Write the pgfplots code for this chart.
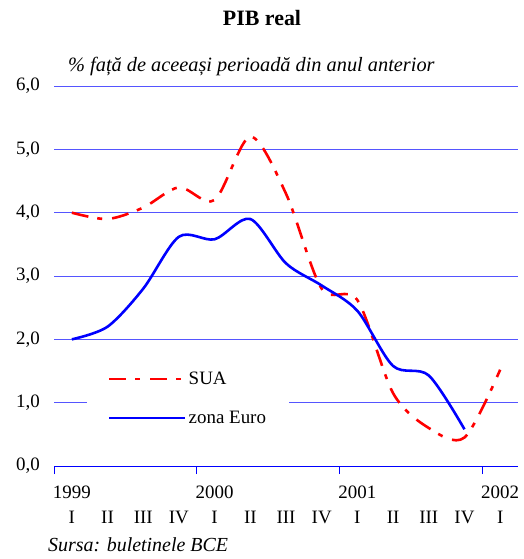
\documentclass[border=0pt]{standalone}
\usepackage{pgfplots}
\pgfplotsset{compat=1.18}
\usepackage{fontspec}
\setmainfont{Liberation Serif}
\definecolor{gridblue}{RGB}{85,85,255}
\definecolor{sred}{RGB}{255,0,0}
\definecolor{eblue}{RGB}{0,0,255}
\begin{document}
\begin{tikzpicture}[x=1bp,y=1bp]
\begin{axis}[
  at={(54bp,-466bp)}, anchor=south west,
  scale only axis, width=464bp, height=380bp,
  xmin=0, xmax=13, ymin=0, ymax=6,
  axis x line*=bottom, axis y line*=left,
  y axis line style={draw=none},
  x axis line style={eblue, line width=0.9bp},
  ytick={0,1,...,6},
  ymajorgrids, grid style={gridblue, line width=0.9bp},
  major tick length=0pt,
  ytick style={draw=none},
  xtick={0.5,1.5,...,12.5},
  xticklabels={I,II,III,IV,I,II,III,IV,I,II,III,IV,I},
  minor xtick={0,4,8,12},
  minor tick length=8bp,
  tick align=outside,
  minor tick style={eblue, line width=0.9bp},
  extra x ticks={0.5,4.5,8.5,12.5},
  extra x tick labels={1999,2000,2001,2002},
  extra x tick style={major tick length=0pt, xticklabel style={yshift=25bp}},
  xticklabel style={anchor=base, yshift=-57bp, font=\fontsize{19}{22}\selectfont},
  yticklabel style={anchor=east, inner xsep=0pt, xshift=-14bp, font=\fontsize{19}{22}\selectfont},
  /pgf/number format/.cd, fixed, fixed zerofill, precision=1, use comma, assume math mode=true,
  /pgfplots/.cd,
  legend style={at={(0.071,0.269)}, anchor=north west, draw=none, fill=white,
    inner xsep=21bp, inner ysep=6bp, row sep=21bp,
    font=\fontsize{19}{22}\selectfont, cells={anchor=west}},
  legend image code/.code={\draw[#1] (0bp,0bp) -- (76bp,0bp);},
  legend cell align=left,
]
\addplot[sred, line width=2.6bp, dash pattern=on 17bp off 9bp on 5bp off 10bp, smooth, tension=0.5]
  coordinates {(0.5,4.0) (1.5,3.9) (2.5,4.08) (3.5,4.4) (4.5,4.2) (5.5,5.2) (6.5,4.3) (7.5,2.8) (8.5,2.62) (9.5,1.15) (10.5,0.6) (11.5,0.45) (12.5,1.52)};
\addlegendentry{SUA}
\addplot[eblue, line width=2.6bp, smooth, tension=0.5]
  coordinates {(0.5,2.0) (1.5,2.2) (2.5,2.8) (3.5,3.62) (4.5,3.58) (5.5,3.9) (6.5,3.2) (7.5,2.85) (8.5,2.45) (9.5,1.58) (10.5,1.43) (11.5,0.58)};
\addlegendentry{zona Euro}
\end{axis}
\node[font=\fontsize{22}{26}\selectfont\bfseries] at (262bp,-18bp) {PIB real};
\node[font=\fontsize{20.4}{24}\selectfont\itshape, anchor=west, inner sep=0pt] at (68bp,-67bp) {\% față de aceeași perioadă din anul anterior};
\node[font=\fontsize{20}{24}\selectfont\itshape, anchor=west, inner sep=0pt] at (48bp,-545bp) {Sursa: buletinele BCE};
\pgfresetboundingbox
\path[use as bounding box] (0bp,0bp) rectangle (524bp,-559bp);
\end{tikzpicture}
\end{document}
